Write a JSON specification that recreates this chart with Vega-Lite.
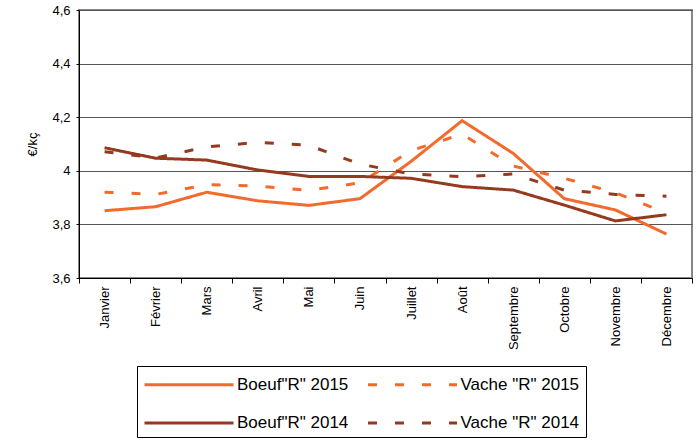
{
  "$schema": "https://vega.github.io/schema/vega-lite/v6.json",
  "width": 613,
  "height": 268,
  "autosize": {"type": "none"},
  "padding": {"left": 79, "top": 10, "right": 6, "bottom": 166},
  "background": "white",
  "title": {"text": "décembre", "font": "DejaVu Sans", "fontSize": 18, "fontWeight": "normal", "color": "#000", "baseline": "alphabetic", "offset": 6, "dx": -21, "anchor": "middle"},
  "data": {"values": [
    {"mois": "Janvier", "serie": "Boeuf\"R\" 2015", "prix": 3.851},
    {"mois": "Février", "serie": "Boeuf\"R\" 2015", "prix": 3.866},
    {"mois": "Mars", "serie": "Boeuf\"R\" 2015", "prix": 3.920},
    {"mois": "Avril", "serie": "Boeuf\"R\" 2015", "prix": 3.888},
    {"mois": "Mai", "serie": "Boeuf\"R\" 2015", "prix": 3.871},
    {"mois": "Juin", "serie": "Boeuf\"R\" 2015", "prix": 3.896},
    {"mois": "Juillet", "serie": "Boeuf\"R\" 2015", "prix": 4.035},
    {"mois": "Août", "serie": "Boeuf\"R\" 2015", "prix": 4.187},
    {"mois": "Septembre", "serie": "Boeuf\"R\" 2015", "prix": 4.065},
    {"mois": "Octobre", "serie": "Boeuf\"R\" 2015", "prix": 3.896},
    {"mois": "Novembre", "serie": "Boeuf\"R\" 2015", "prix": 3.854},
    {"mois": "Décembre", "serie": "Boeuf\"R\" 2015", "prix": 3.764},
    {"mois": "Janvier", "serie": "Vache \"R\" 2015", "prix": 3.920},
    {"mois": "Février", "serie": "Vache \"R\" 2015", "prix": 3.912},
    {"mois": "Mars", "serie": "Vache \"R\" 2015", "prix": 3.948},
    {"mois": "Avril", "serie": "Vache \"R\" 2015", "prix": 3.943},
    {"mois": "Mai", "serie": "Vache \"R\" 2015", "prix": 3.927},
    {"mois": "Juin", "serie": "Vache \"R\" 2015", "prix": 3.955},
    {"mois": "Juillet", "serie": "Vache \"R\" 2015", "prix": 4.075},
    {"mois": "Août", "serie": "Vache \"R\" 2015", "prix": 4.137},
    {"mois": "Septembre", "serie": "Vache \"R\" 2015", "prix": 4.018},
    {"mois": "Octobre", "serie": "Vache \"R\" 2015", "prix": 3.972},
    {"mois": "Novembre", "serie": "Vache \"R\" 2015", "prix": 3.918},
    {"mois": "Décembre", "serie": "Vache \"R\" 2015", "prix": 3.842},
    {"mois": "Janvier", "serie": "Boeuf\"R\" 2014", "prix": 4.086},
    {"mois": "Février", "serie": "Boeuf\"R\" 2014", "prix": 4.047},
    {"mois": "Mars", "serie": "Boeuf\"R\" 2014", "prix": 4.040},
    {"mois": "Avril", "serie": "Boeuf\"R\" 2014", "prix": 4.003},
    {"mois": "Mai", "serie": "Boeuf\"R\" 2014", "prix": 3.979},
    {"mois": "Juin", "serie": "Boeuf\"R\" 2014", "prix": 3.979},
    {"mois": "Juillet", "serie": "Boeuf\"R\" 2014", "prix": 3.972},
    {"mois": "Août", "serie": "Boeuf\"R\" 2014", "prix": 3.941},
    {"mois": "Septembre", "serie": "Boeuf\"R\" 2014", "prix": 3.928},
    {"mois": "Octobre", "serie": "Boeuf\"R\" 2014", "prix": 3.872},
    {"mois": "Novembre", "serie": "Boeuf\"R\" 2014", "prix": 3.813},
    {"mois": "Décembre", "serie": "Boeuf\"R\" 2014", "prix": 3.836},
    {"mois": "Janvier", "serie": "Vache \"R\" 2014", "prix": 4.071},
    {"mois": "Février", "serie": "Vache \"R\" 2014", "prix": 4.048},
    {"mois": "Mars", "serie": "Vache \"R\" 2014", "prix": 4.089},
    {"mois": "Avril", "serie": "Vache \"R\" 2014", "prix": 4.106},
    {"mois": "Mai", "serie": "Vache \"R\" 2014", "prix": 4.095},
    {"mois": "Juin", "serie": "Vache \"R\" 2014", "prix": 4.025},
    {"mois": "Juillet", "serie": "Vache \"R\" 2014", "prix": 3.988},
    {"mois": "Août", "serie": "Vache \"R\" 2014", "prix": 3.978},
    {"mois": "Septembre", "serie": "Vache \"R\" 2014", "prix": 3.988},
    {"mois": "Octobre", "serie": "Vache \"R\" 2014", "prix": 3.928},
    {"mois": "Novembre", "serie": "Vache \"R\" 2014", "prix": 3.912},
    {"mois": "Décembre", "serie": "Vache \"R\" 2014", "prix": 3.905}
  ]},
  "mark": {"type": "line", "strokeWidth": 3},
  "encoding": {
    "x": {
      "field": "mois", "type": "ordinal",
      "sort": ["Janvier", "Février", "Mars", "Avril", "Mai", "Juin", "Juillet", "Août", "Septembre", "Octobre", "Novembre", "Décembre"],
      "scale": {"type": "band", "paddingInner": 0, "paddingOuter": 0},
      "axis": {"title": null, "tickBand": "extent", "labelAngle": -90, "labelAlign": "right", "labelBaseline": "middle", "labelPadding": 3, "tickSize": 5, "tickColor": "#000", "domainColor": "#000", "domainWidth": 1, "labelFont": "Liberation Sans", "labelFontSize": 13, "labelColor": "#000", "grid": false}
    },
    "y": {
      "field": "prix", "type": "quantitative",
      "scale": {"domain": [3.6, 4.6], "nice": false, "zero": false},
      "axis": {"title": "€/kç", "values": [3.6, 3.8, 4, 4.2, 4.4, 4.6], "labelExpr": "replace(toString(datum.value), '.', ',')", "tickSize": 3, "labelPadding": 6, "tickColor": "#000", "domainColor": "#000", "domainWidth": 1, "labelFont": "Liberation Sans", "labelFontSize": 13, "labelColor": "#000", "titleFont": "Liberation Sans", "titleFontSize": 13, "titleFontWeight": "normal", "titleColor": "#000", "titlePadding": 12, "grid": true, "gridColor": "#555", "gridWidth": 1}
    },
    "color": {
      "field": "serie", "type": "nominal",
      "scale": {"domain": ["Boeuf\"R\" 2015", "Vache \"R\" 2015", "Boeuf\"R\" 2014", "Vache \"R\" 2014"], "range": ["#F26A2C", "#F26A2C", "#953A1F", "#953A1F"]},
      "legend": {"orient": "none", "legendX": 58, "legendY": 356, "direction": "horizontal", "columns": 2, "title": " ", "titleFontSize": 1, "titlePadding": 3, "symbolType": "M-1.4,0H16.4", "symbolSize": 100, "symbolStrokeWidth": 3, "labelFont": "Liberation Sans", "labelFontSize": 17, "labelColor": "#000", "strokeColor": "#000", "fillColor": "white", "padding": 6, "rowPadding": 20.5, "columnPadding": 12.5, "labelOffset": 77, "gridAlign": "each"}
    },
    "strokeDash": {
      "field": "serie", "type": "nominal",
      "scale": {"domain": ["Boeuf\"R\" 2015", "Vache \"R\" 2015", "Boeuf\"R\" 2014", "Vache \"R\" 2014"], "range": [[1, 0], [9, 18], [1, 0], [9, 18]]},
      "legend": {"orient": "none", "legendX": 58, "legendY": 356, "direction": "horizontal", "columns": 2, "title": " ", "titleFontSize": 1, "titlePadding": 3, "symbolType": "M-1.4,0H16.4", "symbolSize": 100, "symbolStrokeWidth": 3, "labelFont": "Liberation Sans", "labelFontSize": 17, "labelColor": "#000", "strokeColor": "#000", "fillColor": "white", "padding": 6, "rowPadding": 20.5, "columnPadding": 12.5, "labelOffset": 77, "gridAlign": "each"}
    }
  },
  "config": {"view": {"stroke": "#888", "strokeWidth": 2}}
}
